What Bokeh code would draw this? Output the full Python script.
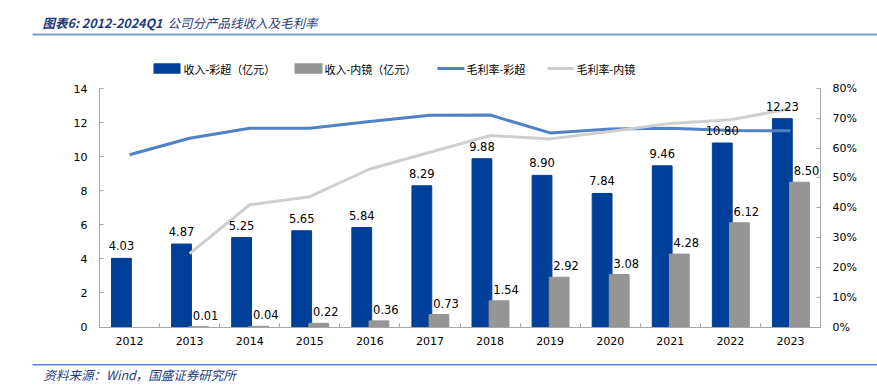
from bokeh.plotting import figure
from bokeh.models import (Range1d, LinearAxis, FixedTicker, PrintfTickFormatter,
                          ColumnDataSource, LabelSet)
from bokeh.core.properties import value
from bokeh.embed import file_html
from bokeh.resources import INLINE

# ---------------- data ----------------
years = ["2012", "2013", "2014", "2015", "2016", "2017", "2018", "2019", "2020", "2021", "2022", "2023"]
rev_us = [4.03, 4.87, 5.25, 5.65, 5.84, 8.29, 9.88, 8.90, 7.84, 9.46, 10.80, 12.23]       # 收入-彩超（亿元）
rev_endo = [None, 0.01, 0.04, 0.22, 0.36, 0.73, 1.54, 2.92, 3.08, 4.28, 6.12, 8.50]       # 收入-内镜（亿元）
gm_us = [57.8, 63.3, 66.7, 66.7, 68.9, 71.0, 71.1, 65.1, 66.4, 66.7, 65.9, 65.8]         # 毛利率-彩超 (%)
gm_endo = [None, 24.6, 41.0, 43.7, 53.0, 58.6, 64.2, 63.1, 65.6, 68.3, 69.5, 73.2]       # 毛利率-内镜 (%)
y_ticks_left = [0, 2, 4, 6, 8, 10, 12, 14]
y_ticks_right = [0, 10, 20, 30, 40, 50, 60, 70, 80]
legend_labels = ["收入-彩超（亿元）", "收入-内镜（亿元）", "毛利率-彩超", "毛利率-内镜"]
title_a = "图表6: 2012-2024Q1"
title_b = "公司分产品线收入及毛利率"
source_text = "资料来源：Wind，国盛证券研究所"

# ---------------- style ----------------
C_BLUE = "#003f98"
C_GRAY = "#959595"
C_LBLUE = "#4f81c6"
C_LGRAY = "#cfcfcf"
C_AXIS = "#a6a6a6"
C_TITLE = "#1f3b7f"
NUM_FONT = "DejaVu Sans"
CJK_FONT = "Noto Sans CJK SC"

W, H = 877, 386
PL, PR, PT, PB = 99.0, 820.0, 88.0, 326.5     # plot area in pixels
N = len(years)
YMAX = y_ticks_left[-1]
PMAX = y_ticks_right[-1]
kx = N / (PR - PL)
ky = YMAX / (PB - PT)
kp = PMAX / (PB - PT)

p = figure(width=W, height=H, output_backend="svg", toolbar_location=None,
           x_range=Range1d(-0.5 - PL * kx, N - 0.5 + (W - PR) * kx),
           y_range=Range1d(-(H - PB) * ky, YMAX + PT * ky),
           min_border=0, x_axis_location=None, y_axis_location=None)
p.outline_line_color = None
p.grid.visible = False
p.extra_y_ranges = {"pct": Range1d(-(H - PB) * kp, PMAX + PT * kp), "py": Range1d(H, 0)}
p.extra_x_ranges = {"px": Range1d(0, W)}

xs = list(range(N))
BW = 0.33
OFF_B, OFF_G = -0.135, 0.15

src_us = ColumnDataSource(dict(x=[i + OFF_B for i in xs], top=rev_us,
                               lab=["%.2f" % v for v in rev_us]))
ix_e = [i for i, v in enumerate(rev_endo) if v is not None]
src_en = ColumnDataSource(dict(x=[i + OFF_G for i in ix_e], top=[rev_endo[i] for i in ix_e],
                               lab=["%.2f" % rev_endo[i] for i in ix_e]))

p.vbar(x="x", top="top", bottom=0, width=BW, source=src_us, fill_color=C_BLUE, line_color=C_BLUE,
       line_width=1)
p.vbar(x="x", top="top", bottom=0, width=BW, source=src_en, fill_color=C_GRAY, line_color=C_GRAY,
       line_width=1)

p.line(xs, gm_us, y_range_name="pct", line_color=C_LBLUE, line_width=3, line_join="round")
ix_g = [i for i, v in enumerate(gm_endo) if v is not None]
p.line(ix_g, [gm_endo[i] for i in ix_g], y_range_name="pct", line_color=C_LGRAY, line_width=3,
       line_join="round")

p.add_layout(LabelSet(x="x", y="top", text="lab", source=src_us, y_offset=8, text_align="center",
                      text_baseline="alphabetic", text_font=value(NUM_FONT), text_font_size="11.5px",
                      text_color="black"))
p.add_layout(LabelSet(x="x", y="top", text="lab", source=src_en, x_offset=7, y_offset=7,
                      text_align="center", text_baseline="alphabetic", text_font=value(NUM_FONT),
                      text_font_size="11.5px", text_color="black"))


# ---------------- axes (placed at fixed data locations) ----------------
def style_axis(ax):
    ax.axis_line_color = C_AXIS
    ax.major_label_text_font = NUM_FONT
    ax.major_label_text_font_size = "11px"
    ax.major_label_text_color = "black"
    ax.major_tick_line_color = C_AXIS
    ax.minor_tick_line_color = None


xa = LinearAxis(fixed_location=0, bounds=(-0.5, N - 0.5),
                ticker=FixedTicker(ticks=xs, minor_ticks=[i - 0.5 for i in range(N + 1)]))
style_axis(xa)
xa.major_label_overrides = {i: y for i, y in enumerate(years)}
xa.major_tick_in = 0
xa.major_tick_out = 0
xa.minor_tick_in = 4
xa.minor_tick_out = 0
xa.minor_tick_line_color = C_AXIS
xa.major_label_standoff = 10
p.add_layout(xa, "below")

ya = LinearAxis(fixed_location=-0.5, bounds=(0, YMAX), ticker=FixedTicker(ticks=y_ticks_left))
style_axis(ya)
ya.major_tick_in = 4
ya.major_tick_out = 0
ya.major_label_standoff = 12
p.add_layout(ya, "left")

yr = LinearAxis(y_range_name="pct", fixed_location=N - 0.5, bounds=(0, PMAX),
                ticker=FixedTicker(ticks=y_ticks_right), formatter=PrintfTickFormatter(format="%d%%"))
style_axis(yr)
yr.major_tick_in = 4
yr.major_tick_out = 0
yr.major_label_standoff = 12
p.add_layout(yr, "right")

# ---------------- title / legend / footer (pixel ranges) ----------------
PX = dict(x_range_name="px", y_range_name="py")
p.text(x=[42], y=[22], text=[title_a], text_font=value(CJK_FONT), text_font_size="12.5px",
       text_font_style="bold italic", text_color=C_TITLE, text_baseline="middle", **PX)
p.text(x=[167], y=[22], text=[title_b], text_font=value(CJK_FONT), text_font_size="12.5px",
       text_font_style="italic", text_color=C_TITLE, text_baseline="middle", **PX)
p.quad(left=[32], right=[W], top=[33], bottom=[35], fill_color="#7f9fd2", line_color=None, **PX)

leg_y = 68
box_items = [(153, 180, C_BLUE, 183), (294, 322, C_GRAY, 324)]
line_items = [(437, 464, C_LBLUE, 466), (547, 573, C_LGRAY, 576)]
for (l, r, c, tx), lab in zip(box_items, legend_labels[:2]):
    p.quad(left=[l], right=[r], top=[leg_y - 5.3], bottom=[leg_y + 5.3], fill_color=c, line_color=None, **PX)
    p.text(x=[tx], y=[leg_y], text=[lab], text_font=value(CJK_FONT), text_font_size="11px",
           text_color="black", text_baseline="middle", **PX)
for (l, r, c, tx), lab in zip(line_items, legend_labels[2:]):
    p.segment(x0=[l], x1=[r], y0=[leg_y], y1=[leg_y], line_color=c, line_width=3, **PX)
    p.text(x=[tx], y=[leg_y], text=[lab], text_font=value(CJK_FONT), text_font_size="11px",
           text_color="black", text_baseline="middle", **PX)

p.quad(left=[32], right=[W], top=[363.5], bottom=[365], fill_color="#5b87cf", line_color=None, **PX)
p.text(x=[43], y=[374], text=[source_text], text_font=value(CJK_FONT), text_font_size="12.5px",
       text_font_style="italic", text_color=C_TITLE, text_baseline="middle", **PX)

open("out.html", "w").write(file_html(p, INLINE))
